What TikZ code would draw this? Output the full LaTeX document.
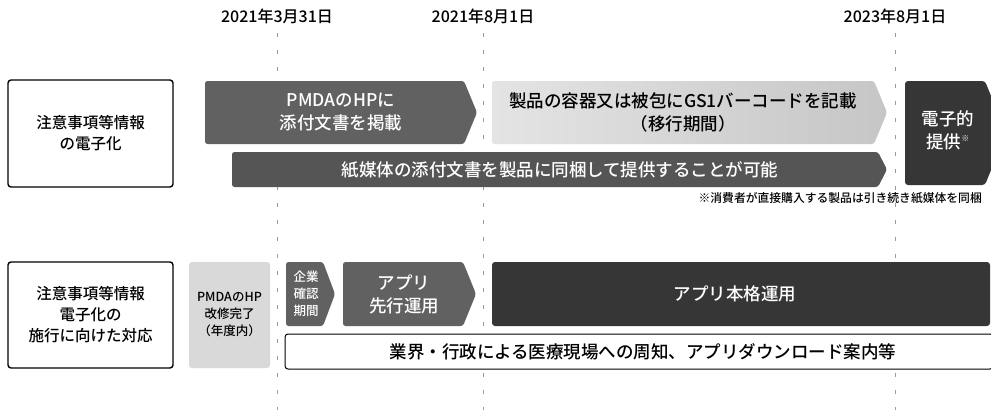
\documentclass[tikz,border=0pt]{standalone}
\usepackage{fontspec}
\setmainfont{Noto Sans CJK JP}[UprightFont={* Medium}]
\definecolor{midgray}{HTML}{616161}
\definecolor{bargray}{HTML}{555555}
\definecolor{darkgray}{HTML}{363636}
\definecolor{lightL}{HTML}{E4E4E4}
\definecolor{lightR}{HTML}{C6C6C6}
\definecolor{pmdagray}{HTML}{D9D9D9}
\definecolor{dashgray}{HTML}{9A9A9A}
\newcommand\chevbox[6]{% x1 y1 x2 y2 depth style
  \path[#6] (#1,#2) -- ({#3-#5},#2) -- (#3,{(#2+#4)/2}) -- ({#3-#5},#4) -- (#1,#4) -- cycle;}
\tikzset{
  datelbl/.style={font=\fontsize{16}{18}\selectfont, text=black, inner sep=0pt},
  guide/.style={draw=dashgray, line width=0.9pt, dash pattern=on 4pt off 13pt},
  leftbox/.style={draw=black, line width=1.4pt, rounded corners=3pt, fill=white},
  boxtext/.style={font=\fontsize{15.5}{21}\selectfont, align=center, inner sep=0pt},
  bigw/.style={font=\fontsize{17.5}{23}\selectfont, align=center, text=white, inner sep=0pt},
  bigk/.style={font=\fontsize{17.5}{23}\selectfont, align=center, text=black, inner sep=0pt},
  smallw/.style={font=\fontsize{12.5}{17}\selectfont, align=center, text=white, inner sep=0pt},
  smallk/.style={font=\fontsize{12.5}{17}\selectfont, align=center, text=black, inner sep=0pt},
}
\begin{document}
\begin{tikzpicture}[x=1pt,y=-1pt]
\useasboundingbox (0,0) rectangle (991,410);
\clip (0,0) rectangle (991,410);
\fill[white] (0,0) rectangle (991,410);
% dates
\node[datelbl] (d1) at (277,16) {2021年3月31日};
\node[datelbl] (d2) at (483,16) {2021年8月1日};
\node[datelbl] (d3) at (895,16) {2023年8月1日};
% guides
\coordinate (g1t) at (277,33); \coordinate (g1b) at (277,410);
\coordinate (g2t) at (483,33); \coordinate (g2b) at (483,410);
\coordinate (g3t) at (895,33); \coordinate (g3b) at (895,410);
\draw[guide] (g1t) -- (g1b);
\draw[guide] (g2t) -- (g2b);
\draw[guide] (g3t) -- (g3b);
% row 1
\path[leftbox] (8,80) rectangle (173,187);
\node[boxtext] (l1) at (90.5,133.5) {注意事項等情報\\の電子化};
\chevbox{205}{81}{477}{144}{13}{fill=midgray, rounded corners=2.5pt}
\node[bigw] (a1) at (341,112.5) {PMDAのHPに\\添付文書を掲載};
\chevbox{492}{81}{887}{144}{13}{left color=lightL, right color=lightR, rounded corners=2.5pt}
\node[bigk] (a2) at (683,112.5) {製品の容器又は被包にGS1バーコードを記載\\（移行期間）};
\chevbox{905}{81}{1006}{185}{21}{fill=darkgray, rounded corners=3pt}
\node[bigw] (a3) at (948,130) {電子的\\提供\textsuperscript{\fontsize{8}{8}\selectfont ※}};
\chevbox{232}{152}{887}{187}{9}{fill=bargray, rounded corners=2.5pt}
\node[bigw] (a4) at (560,169.5) {紙媒体の添付文書を製品に同梱して提供することが可能};
\node[font=\fontsize{11.8}{13}\selectfont, anchor=east, inner sep=0pt] (note) at (982,198.5) {※消費者が直接購入する製品は引き続き紙媒体を同梱};
% row 2
\path[leftbox] (8,262) rectangle (173,368);
\node[boxtext] (l2) at (90.5,315) {注意事項等情報\\電子化の\\施行に向けた対応};
\path[fill=pmdagray, rounded corners=3pt] (189,262) rectangle (270,368);
\node[smallk] (p1) at (229.5,314.5) {PMDAのHP\\改修完了\\（年度内）};
\chevbox{286}{262}{335}{326}{12}{fill=midgray, rounded corners=2.5pt}
\node[smallw] (k1) at (306,294) {企業\\確認\\期間};
\chevbox{343}{262}{476}{326}{13}{fill=midgray, rounded corners=2.5pt}
\node[bigw] (a5) at (404,294) {アプリ\\先行運用};
\path[fill=darkgray, rounded corners=3pt] (492,262) rectangle (990,326);
\node[bigw] (a6) at (735,294) {アプリ本格運用};
\path[draw=black, line width=1pt, fill=white, rounded corners=3pt] (285,334) rectangle (993,369);
\node[bigk] (a7) at (643,352) {業界・行政による医療現場への周知、アプリダウンロード案内等};
\end{tikzpicture}
\end{document}
